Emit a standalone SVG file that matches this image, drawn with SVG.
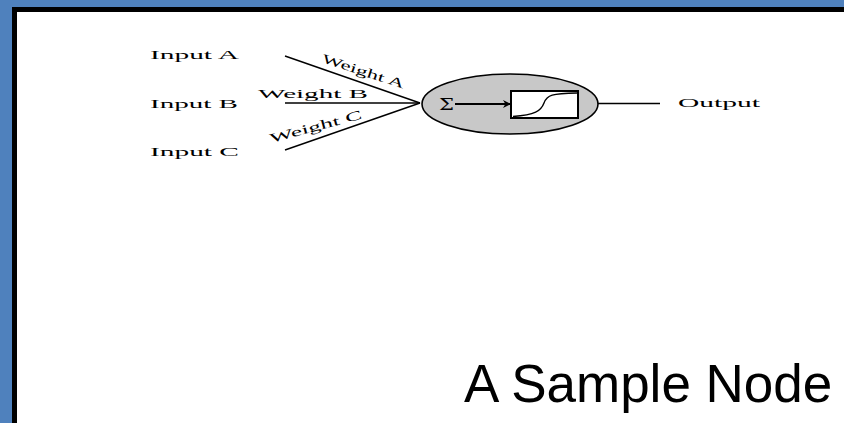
<svg xmlns="http://www.w3.org/2000/svg" width="844" height="423" viewBox="0 0 844 423">
  <style>
    .lbl { font-family: "Liberation Serif", "Times New Roman", serif; font-size: 13px; fill: #000; }
    .wire { stroke: #000; stroke-width: 1.4; fill: none; }
    .title { font-family: "Liberation Sans", Arial, sans-serif; font-size: 53px; fill: #000; }
  </style>
  <defs>
    <marker id="arrowhead" viewBox="0 0 10 10" refX="10" refY="5" markerWidth="18" markerHeight="8" markerUnits="userSpaceOnUse" orient="auto">
      <path d="M0,0 L10,5 L0,10 L3,5 Z" fill="#000"/>
    </marker>
  </defs>

  <!-- slide frame -->
  <rect x="0" y="0" width="844" height="423" fill="#4f81bd"/>
  <rect x="12" y="7" width="832" height="416" fill="#000"/>
  <rect x="17" y="12" width="827" height="411" fill="#fff"/>

  <!-- inputs -->
  <g id="input-a">
    <text class="lbl" x="150" y="59" textLength="89" lengthAdjust="spacingAndGlyphs">Input A</text>
  </g>
  <g id="input-b">
    <text class="lbl" x="150" y="108" textLength="88" lengthAdjust="spacingAndGlyphs">Input B</text>
  </g>
  <g id="input-c">
    <text class="lbl" x="150" y="156" textLength="89" lengthAdjust="spacingAndGlyphs">Input C</text>
  </g>

  <!-- weighted connections into the neuron -->
  <g id="connectors">
    <line class="wire" x1="285" y1="56" x2="420" y2="103"/>
    <line class="wire" x1="285" y1="103" x2="420" y2="103"/>
    <line class="wire" x1="285" y1="150" x2="420" y2="103"/>
    <line class="wire" x1="598" y1="103.5" x2="660" y2="103.5"/>
    <text class="lbl" transform="translate(321,62) rotate(18)" x="0" y="0" textLength="86" lengthAdjust="spacingAndGlyphs">Weight A</text>
    <text class="lbl" x="258" y="98" textLength="110" lengthAdjust="spacingAndGlyphs">Weight B</text>
    <text class="lbl" transform="translate(271,143) rotate(-15)" x="0" y="0" textLength="95" lengthAdjust="spacingAndGlyphs">Weight C</text>
  </g>

  <!-- neuron: summation feeding a sigmoid activation -->
  <g id="neuron">
    <ellipse cx="510" cy="104" rx="88" ry="30" fill="#c8c8c8" stroke="#000" stroke-width="1.6"/>
    <text x="439" y="110" style="font-family: 'DejaVu Serif', serif; font-size: 16px;" textLength="15" lengthAdjust="spacingAndGlyphs">Σ</text>
    <line x1="455" y1="104" x2="511" y2="104" stroke="#000" stroke-width="1.8" marker-end="url(#arrowhead)"/>
    <rect x="511" y="91" width="67" height="27" fill="#fff" stroke="#000" stroke-width="2"/>
    <path d="M513,116.5 C535,115 541,111 544,103 C547,95 552,93.5 577,93" fill="none" stroke="#000" stroke-width="1.4"/>
  </g>

  <!-- output -->
  <g id="output">
    <text class="lbl" x="678" y="107" textLength="82" lengthAdjust="spacingAndGlyphs">Output</text>
  </g>

  <text class="title" x="464" y="402">A Sample Node</text>
</svg>
